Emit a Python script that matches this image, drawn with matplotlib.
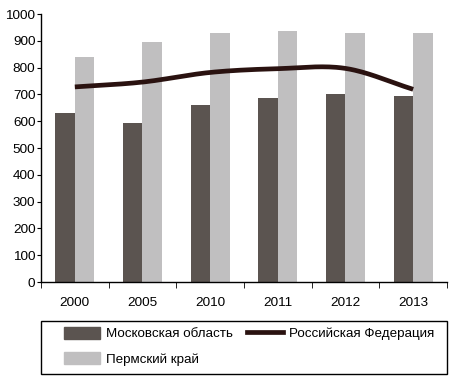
import numpy as np
import matplotlib.pyplot as plt
from matplotlib.patches import Patch, Rectangle
from matplotlib.lines import Line2D

plt.rcParams['font.family'] = ['Liberation Sans', 'DejaVu Sans']

years = ['2000', '2005', '2010', '2011', '2012', '2013']
moscow_obl = [632, 594, 660, 688, 702, 694]
perm_krai = [840, 896, 930, 937, 929, 929]
russia = [728, 746, 782, 796, 797, 719]

dark = '#5b5450'
light = '#c0bfc0'
line_col = '#2a1210'


def smooth(x, y, n=30):
    # catmull-rom style smoothing, like Excel's smoothed line
    x = np.asarray(x, float)
    y = np.asarray(y, float)
    px = np.concatenate([[2 * x[0] - x[1]], x, [2 * x[-1] - x[-2]]])
    py = np.concatenate([[2 * y[0] - y[1]], y, [2 * y[-1] - y[-2]]])
    xs, ys = [], []
    t = np.linspace(0, 1, n)
    for i in range(1, len(px) - 2):
        for p, out in ((px, xs), (py, ys)):
            p0, p1, p2, p3 = p[i - 1], p[i], p[i + 1], p[i + 2]
            out.append(0.5 * ((2 * p1) + (-p0 + p2) * t
                              + (2 * p0 - 5 * p1 + 4 * p2 - p3) * t ** 2
                              + (-p0 + 3 * p1 - 3 * p2 + p3) * t ** 3))
    return np.concatenate(xs), np.concatenate(ys)


fig = plt.figure(figsize=(4.56, 3.83), dpi=100)
ax = fig.add_axes([0.0899, 0.2637, 0.8903, 0.6997])

x = np.arange(len(years))
w = 0.29
ax.bar(x - w / 2, moscow_obl, w, color=dark)
ax.bar(x + w / 2, perm_krai, w, color=light)
sx, sy = smooth(x, russia)
ax.plot(sx, sy, color=line_col, lw=3.4, solid_capstyle='butt')

ax.set_xlim(-0.5, len(years) - 0.5)
ax.set_ylim(0, 1000)
ax.set_yticks(range(0, 1001, 100))
ax.set_xticks(x)
ax.set_xticklabels(years)
ax.set_xticks(np.arange(len(years) + 1) - 0.5, minor=True)
ax.tick_params(axis='x', which='major', length=0, pad=11, labelsize=9.7)
ax.tick_params(axis='x', which='minor', length=4, direction='out')
ax.tick_params(axis='y', length=3, direction='out', labelsize=9.7, pad=1)
for s in ['top', 'right']:
    ax.spines[s].set_visible(False)
for s in ['left', 'bottom']:
    ax.spines[s].set_linewidth(1)

# legend frame drawn separately so the entries can sit further in
fig.patches.append(Rectangle((0.0899, 0.0235), 0.8903, 0.1385,
                             transform=fig.transFigure, fill=False,
                             edgecolor='black', lw=1))
handles = [Patch(color=dark), Patch(color=light),
           Line2D([], [], color=line_col, lw=3.4)]
labels = ['Московская область', 'Пермский край', 'Российская Федерация']
leg = fig.legend(handles, labels, ncol=2, loc='upper left',
                 bbox_to_anchor=(0.141, 0.147),
                 fontsize=9.6, frameon=False,
                 handlelength=2.7, handleheight=1.0, handletextpad=0.45,
                 columnspacing=1.05, borderaxespad=0, borderpad=0,
                 labelspacing=0.9)

fig.savefig('out.png', dpi=100)
